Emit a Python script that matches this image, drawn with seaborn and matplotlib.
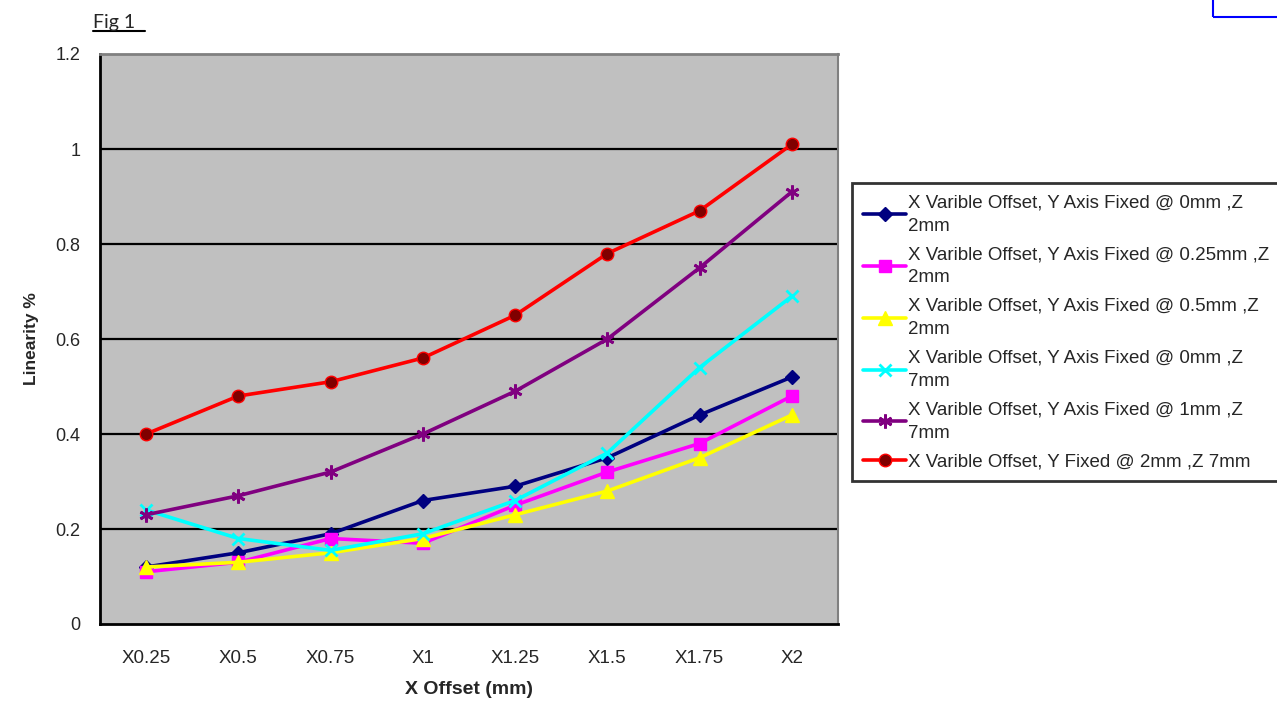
import pandas as pd
import matplotlib.pyplot as plt
import seaborn as sns
from matplotlib.patches import Rectangle
from matplotlib.lines import Line2D

# Categories on the x axis
categories = ["X0.25", "X0.5", "X0.75", "X1", "X1.25", "X1.5", "X1.75", "X2"]

# Linearity % per series
y0_z2 = [0.12, 0.15, 0.19, 0.26, 0.29, 0.35, 0.44, 0.52]
y025_z2 = [0.11, 0.13, 0.18, 0.17, 0.25, 0.32, 0.38, 0.48]
y05_z2 = [0.12, 0.13, 0.15, 0.18, 0.23, 0.28, 0.35, 0.44]
y0_z7 = [0.24, 0.18, 0.155, 0.19, 0.26, 0.36, 0.54, 0.69]
y1_z7 = [0.23, 0.27, 0.32, 0.40, 0.49, 0.60, 0.75, 0.91]
y2_z7 = [0.40, 0.48, 0.51, 0.56, 0.65, 0.78, 0.87, 1.01]

labels = [
    "X Varible Offset, Y Axis Fixed @ 0mm ,Z\n2mm",
    "X Varible Offset, Y Axis Fixed @ 0.25mm ,Z\n2mm",
    "X Varible Offset, Y Axis Fixed @ 0.5mm ,Z\n2mm",
    "X Varible Offset, Y Axis Fixed @ 0mm ,Z\n7mm",
    "X Varible Offset, Y Axis Fixed @ 1mm ,Z\n7mm",
    "X Varible Offset, Y Fixed @ 2mm ,Z 7mm",
]
series = [y0_z2, y025_z2, y05_z2, y0_z7, y1_z7, y2_z7]

colors = ["#000080", "#FF00FF", "#FFFF00", "#00FFFF", "#800080", "#FF0000"]
markers = ["D", "s", "^", "x", (6, 2, 0), "o"]
msizes = [7, 9, 10, 9, 10, 9]
mfaces = ["#000080", "#FF00FF", "#FFFF00", "#00FFFF", "#800080", "#800000"]

sns.set_style("white")
plt.rcParams["font.family"] = ["Liberation Sans", "DejaVu Sans"]

fig = plt.figure(figsize=(12.77, 7.10), dpi=100)
ax = fig.add_axes([100 / 1277, 1 - 624 / 710, 738 / 1277, 570 / 710])
ax.set_facecolor("#C0C0C0")

for vals, lab, c, m, ms, mf in zip(series, labels, colors, markers, msizes, mfaces):
    df = pd.DataFrame({"pos": range(len(categories)), "val": vals})
    sns.lineplot(data=df, x="pos", y="val", ax=ax, color=c, linewidth=2.6,
                 marker=m, markersize=ms, markerfacecolor=mf, markeredgecolor=c,
                 markeredgewidth=2 if m in ("x", (6, 2, 0)) else 1,
                 label=lab, sort=False, zorder=3)

ax.set_xlim(-0.5, len(categories) - 0.5)
ax.set_ylim(0, 1.2)
ax.set_yticks([0, 0.2, 0.4, 0.6, 0.8, 1.0, 1.2])
ax.set_yticklabels(["0", "0.2", "0.4", "0.6", "0.8", "1", "1.2"], fontsize=13)
ax.set_xticks(range(len(categories)))
ax.set_xticklabels(categories, fontsize=13.5)
ax.set_xticks([i - 0.5 for i in range(len(categories) + 1)], minor=True)
ax.tick_params(axis="x", which="major", length=0, pad=19)
ax.tick_params(axis="x", which="minor", length=6, width=1.5, direction="out", color="black")
ax.tick_params(axis="y", length=6, width=1.5, direction="out", color="black", pad=8)

for yv in [0.2, 0.4, 0.6, 0.8, 1.0]:
    ax.axhline(yv, color="black", linewidth=1.6, zorder=1)

ax.spines["left"].set_color("black")
ax.spines["left"].set_linewidth(2)
ax.spines["bottom"].set_color("black")
ax.spines["bottom"].set_linewidth(2)
ax.spines["top"].set_color("#808080")
ax.spines["top"].set_linewidth(2)
ax.spines["right"].set_color("#808080")
ax.spines["right"].set_linewidth(1.5)

ax.set_xlabel("X Offset (mm)", fontsize=14, fontweight="bold", labelpad=10)
ax.set_ylabel("Linearity %", fontsize=12.5, fontweight="bold", labelpad=12)

leg = ax.legend(loc="upper left", bbox_to_anchor=(852 / 1277, 1 - 183 / 710),
                bbox_transform=fig.transFigure, fontsize=13.5, frameon=True,
                fancybox=False, handlelength=2.3, handletextpad=0.1,
                borderaxespad=0, borderpad=0.6, labelspacing=0.6)
leg.get_frame().set_edgecolor("black")
leg.get_frame().set_linewidth(2)
for t in leg.get_texts():
    t.set_linespacing(1.5)

# Title text and the stray blue box at top right
fig.text(93 / 1277, 1 - 28 / 710, "Fig 1", fontsize=14, family=["Lato", "DejaVu Sans"])
fig.add_artist(Line2D([93 / 1277, 145 / 1277], [1 - 31 / 710, 1 - 31 / 710],
                      color="black", linewidth=1.5))
fig.add_artist(Rectangle((1213 / 1277, 1 - 17 / 710), 0.1, 0.1, fill=False,
                         edgecolor="#0000FF", linewidth=1.5))

plt.savefig("out.png", dpi=100)
